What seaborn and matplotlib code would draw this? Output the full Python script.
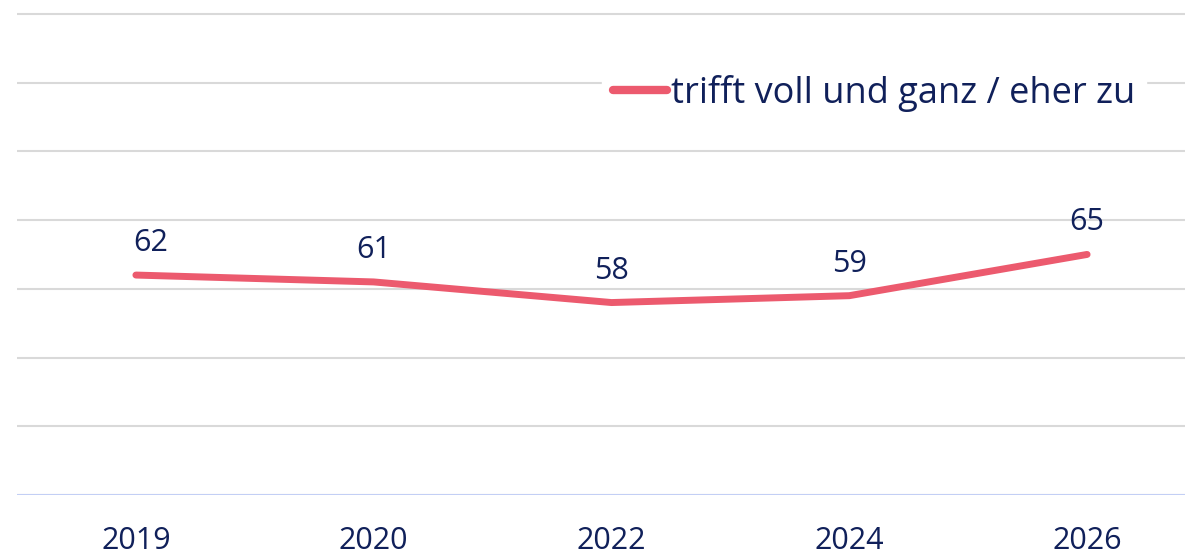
import pandas as pd
import matplotlib.pyplot as plt
import seaborn as sns

# Daten
jahre = ["2019", "2020", "2022", "2024", "2026"]
werte = [62, 61, 58, 59, 65]
serie = "trifft voll und ganz / eher zu"

df = pd.DataFrame({"Jahr": jahre, "Wert": werte, "Serie": serie})

sns.set_theme(style="white")
plt.rcParams['font.family'] = ['Open Sans', 'DejaVu Sans']

text_farbe = "#10205a"
linien_farbe = "#ec5a6e"

fig = plt.figure(figsize=(11.85, 5.56), dpi=100)
# Achse reicht rechts über den Bildrand hinaus (wie im Original abgeschnitten)
ax = fig.add_axes([17 / 1185, 61 / 556, 1189 / 1185, 488 / 556])

x = list(range(len(jahre)))
sns.lineplot(x=x, y=werte, hue=[serie] * len(x), palette=[linien_farbe],
             linewidth=5, ax=ax, solid_capstyle="round")

ax.set_xlim(-0.5, len(jahre) - 0.5)
ax.set_ylim(30, 101)
ax.set_yticks(range(30, 101, 10))
ax.set_yticklabels([])
ax.tick_params(axis="y", length=0)
ax.set_xticks(x)
ax.set_xticklabels(jahre, fontsize=22, color=text_farbe)
ax.tick_params(axis="x", length=0, pad=22)

ax.grid(axis="y", color="#d9d9d9", linewidth=1.5)
ax.set_axisbelow(True)
for s in ax.spines.values():
    s.set_visible(False)
ax.axhline(30, color="#c3cff5", linewidth=2.2, zorder=1)

# Datenbeschriftung
for i, v in enumerate(werte):
    dx = 11 if i == 0 else 0
    ax.annotate(str(v), (i, v), xytext=(dx, 23), textcoords="offset points",
                ha="center", va="center", fontsize=22, color=text_farbe)

leg = ax.legend(loc="center left", bbox_to_anchor=(567 / 1189, 1 - 86 / 488),
                frameon=True, fontsize=26, handlelength=1.5, handletextpad=0.1,
                borderpad=0.3, labelcolor=text_farbe)
leg.get_frame().set_edgecolor("white")
leg.get_frame().set_facecolor("white")
leg.get_frame().set_alpha(1)
leg.get_frame().set_boxstyle("square", pad=0)
for h in leg.get_lines():
    h.set_linewidth(6)
    h.set_solid_capstyle("round")

fig.savefig("out.png", dpi=100)
